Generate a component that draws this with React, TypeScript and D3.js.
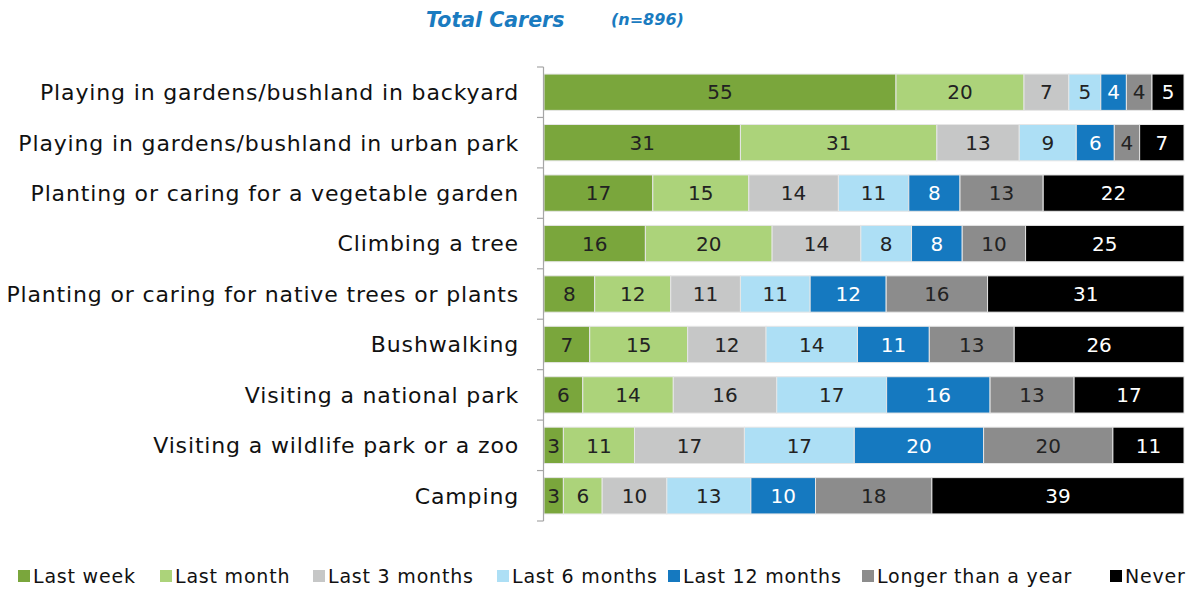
import React from 'react';
import * as d3 from 'd3';

const categories = [
  'Playing in gardens/bushland in backyard',
  'Playing in gardens/bushland in urban park',
  'Planting or caring for a vegetable garden',
  'Climbing a tree',
  'Planting or caring for native trees or plants',
  'Bushwalking',
  'Visiting a national park',
  'Visiting a wildlife park or a zoo',
  'Camping',
];

const seriesNames = [
  'Last week',
  'Last month',
  'Last 3 months',
  'Last 6 months',
  'Last 12 months',
  'Longer than a year',
  'Never',
];

const lastWeek = [55, 31, 17, 16, 8, 7, 6, 3, 3];
const lastMonth = [20, 31, 15, 20, 12, 15, 14, 11, 6];
const last3Months = [7, 13, 14, 14, 11, 12, 16, 17, 10];
const last6Months = [5, 9, 11, 8, 11, 14, 17, 17, 13];
const last12Months = [4, 6, 8, 8, 12, 11, 16, 20, 10];
const longerThanYear = [4, 4, 13, 10, 16, 13, 13, 20, 18];
const never = [5, 7, 22, 25, 31, 26, 17, 11, 39];

const seriesValues = [lastWeek, lastMonth, last3Months, last6Months, last12Months, longerThanYear, never];

const colors = ['#7aa63c', '#acd37a', '#c6c7c7', '#addff5', '#1579c0', '#8c8c8c', '#000000'];
const textColors = ['#222', '#222', '#222', '#222', '#fff', '#222', '#fff'];

const W = 1196;
const H = 589;
const FONT = '"DejaVu Sans", sans-serif';

export default function App() {
  const rows = categories.map((c, i) => {
    const r: any = { cat: c };
    seriesNames.forEach((s, j) => { r[s] = seriesValues[j][i]; });
    return r;
  });

  // each row drawn as share of its total (labels are rounded percentages)
  const stack = d3.stack<any>().keys(seriesNames).offset(d3.stackOffsetExpand);
  const layers = stack(rows);

  const x = d3.scaleLinear().domain([0, 1]).range([544, 1184]);
  const y = d3.scaleBand().domain(categories).range([67, 521]).paddingInner(0.28).paddingOuter(0.14);
  const step = y.step();

  // legend square positions, left to right
  const legendX = [18, 160, 313, 497, 668, 862, 1110];

  return (
    <svg width={W} height={H} style={{ position: 'absolute', left: 0, top: 0, background: '#fff' }} fontFamily={FONT}>
      <text x={426} y={27} fill="#1a7bc0" fontSize={20.5} fontWeight="bold" fontStyle="italic">Total Carers</text>
      <text x={611} y={25} fill="#1a7bc0" fontSize={16} fontWeight="bold" fontStyle="italic">(n=896)</text>

      {layers.map((layer, j) => (
        <g key={layer.key}>
          {layer.map((d, i) => {
            const x0 = x(d[0]);
            const x1 = x(d[1]);
            const yy = y(categories[i]) as number;
            return (
              <g key={i}>
                <rect x={x0} y={yy} width={x1 - x0} height={y.bandwidth()} fill={colors[j]} stroke="#e6e6e6" strokeWidth={1} />
                <text x={(x0 + x1) / 2} y={yy + y.bandwidth() / 2} dy="0.36em" textAnchor="middle" fontSize={20} fill={textColors[j]}>
                  {seriesValues[j][i]}
                </text>
              </g>
            );
          })}
        </g>
      ))}

      {/* axis */}
      <line x1={543.5} x2={543.5} y1={67} y2={521} stroke="#a6a6a6" strokeWidth={1.2} />
      {d3.range(categories.length + 1).map((k) => (
        <line key={k} x1={537} x2={543.5} y1={67 + k * step} y2={67 + k * step} stroke="#a6a6a6" strokeWidth={1.2} />
      ))}
      {categories.map((c) => (
        <text key={c} x={519} y={(y(c) as number) + y.bandwidth() / 2} dy="0.36em" textAnchor="end" fontSize={22} letterSpacing={0.85} fill="#111">
          {c}
        </text>
      ))}

      {/* legend */}
      {seriesNames.map((s, j) => (
        <g key={s} transform={`translate(${legendX[j]},576)`}>
          <rect x={0} y={-6} width={12} height={12} fill={colors[j]} />
          <text x={15} y={0} dy="0.36em" fontSize={19} letterSpacing={0.8} fill="#111">{s}</text>
        </g>
      ))}
    </svg>
  );
}
